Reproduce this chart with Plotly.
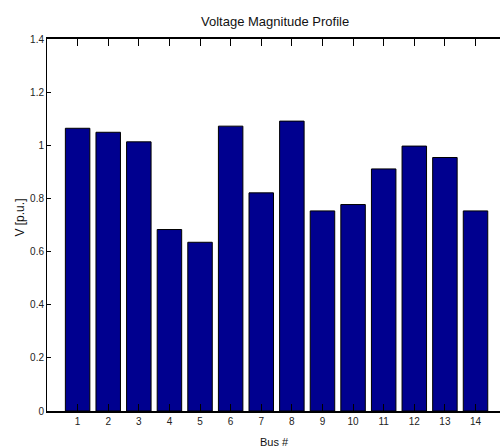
import plotly.graph_objects as go

# Bus numbers and per-unit voltage magnitudes
bus = list(range(1, 15))
vmag = [1.064, 1.049, 1.013, 0.683, 0.635, 1.072, 0.821,
        1.091, 0.753, 0.777, 0.911, 0.997, 0.954, 0.753]

y_ticks = [0, 0.2, 0.4, 0.6, 0.8, 1.0, 1.2, 1.4]
y_ticktext = ["0", "0.2", "0.4", "0.6", "0.8", "1", "1.2", "1.4"]

FONT = "Liberation Sans Narrow, Arial Narrow, Liberation Sans, Arial, sans-serif"

fig = go.Figure(
    go.Bar(
        x=bus,
        y=vmag,
        width=0.8,
        marker=dict(color="#00008F", line=dict(color="black", width=1)),
    )
)

fig.update_layout(
    width=500,
    height=447,
    margin=dict(l=47, r=0, t=39, b=36),
    paper_bgcolor="white",
    plot_bgcolor="white",
    showlegend=False,
    font=dict(family=FONT, color="#222"),
    xaxis=dict(
        range=[0, 14.8],
        tickvals=bus,
        ticks="inside",
        ticklen=7,
        tickcolor="black",
        tickwidth=1,
        showline=True,
        linecolor="black",
        linewidth=1.5,
        mirror="ticks",
        showgrid=False,
        zeroline=False,
        tickfont=dict(size=10, family=FONT),
    ),
    yaxis=dict(
        range=[0, 1.4],
        tickvals=y_ticks,
        ticktext=y_ticktext,
        ticks="inside",
        ticklen=4,
        tickcolor="black",
        tickwidth=1,
        showline=True,
        linecolor="black",
        linewidth=1,
        showgrid=False,
        zeroline=False,
        tickfont=dict(size=10, family=FONT),
    ),
    annotations=[
        dict(text="Voltage Magnitude Profile", xref="paper", yref="paper",
             x=0.503, y=1, yshift=18, showarrow=False, xanchor="center",
             yanchor="middle", font=dict(size=13, family=FONT, color="#111")),
        dict(text="Bus #", xref="paper", yref="paper",
             x=0.503, y=0, yshift=-31, showarrow=False, xanchor="center",
             yanchor="middle", font=dict(size=11, family=FONT, color="#111")),
        dict(text="V [p.u.]", xref="paper", yref="paper",
             x=0, xshift=-27, y=0.52, showarrow=False, textangle=-90,
             xanchor="center", yanchor="middle",
             font=dict(size=12, family=FONT, color="#111")),
    ],
)

fig.write_html("out.html")
